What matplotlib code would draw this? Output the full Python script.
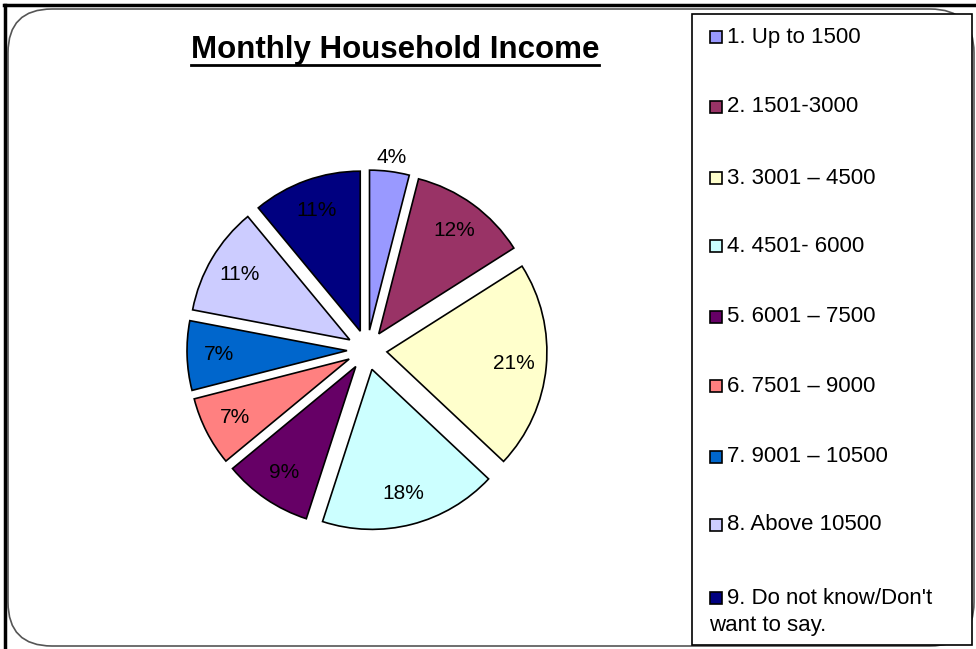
import matplotlib
matplotlib.use("Agg")
import matplotlib.pyplot as plt
from matplotlib.patches import Rectangle, FancyBboxPatch
from matplotlib.lines import Line2D

plt.rcParams['font.family'] = ['Liberation Sans', 'DejaVu Sans']

categories = ["1. Up to 1500", "2. 1501-3000", "3. 3001 \u2013 4500", "4. 4501- 6000",
              "5. 6001 \u2013 7500", "6. 7501 \u2013 9000", "7. 9001 \u2013 10500",
              "8. Above 10500", "9. Do not know/Don't\nwant to say."]
values = [4, 12, 21, 18, 9, 7, 7, 11, 11]
colors = ["#9999FF", "#993366", "#FFFFCC", "#CCFFFF", "#660066",
          "#FF8080", "#0066CC", "#CCCCFF", "#000080"]
title = "Monthly Household Income"

W, H = 976, 649
fig = plt.figure(figsize=(W / 100, H / 100), dpi=100)

def fx(px):
    return px / W

def fy(py):
    return 1 - py / H

# outer frame
fig.add_artist(Line2D([fx(4), fx(976)], [fy(5), fy(5)], color="black", lw=2.5))
fig.add_artist(Line2D([fx(5), fx(5)], [fy(5), fy(649)], color="black", lw=2.5))
fig.add_artist(FancyBboxPatch((fx(8), fy(646)), fx(966), (645 - 8) / H,
                              boxstyle="round,pad=0,rounding_size=0.045",
                              transform=fig.transFigure, fill=False,
                              edgecolor="#555555", lw=1.2, mutation_aspect=W / H))

# pie
cx, cy, r = 367, 350, 160
lim = 1.3
size = 2 * lim * r
ax = fig.add_axes([fx(cx - size / 2), fy(cy + size / 2), size / W, size / H])
wedges, texts, autotexts = ax.pie(values, colors=colors, startangle=90, counterclock=False,
                                  explode=[0.125] * len(values), autopct="%d%%",
                                  pctdistance=0.8, radius=1,
                                  wedgeprops=dict(edgecolor="black", linewidth=1.2),
                                  textprops=dict(fontsize=15, color="black"))
px0, py0 = autotexts[0].get_position()
autotexts[0].set_position((px0 * 1.31, py0 * 1.31))
ax.set_xlim(-lim, lim)
ax.set_ylim(-lim, lim)
ax.set_aspect("equal")
ax.axis("off")

# title with underline
t = fig.text(fx(395), fy(50), title, ha="center", va="center", fontsize=22.5, fontweight="bold")
fig.canvas.draw()
bb = t.get_window_extent()
fig.add_artist(Line2D([bb.x0 / W, bb.x1 / W], [fy(65), fy(65)], color="black", lw=2))

# legend box
fig.add_artist(Rectangle((fx(692), fy(645)), fx(972 - 692), (645 - 14) / H,
                         transform=fig.transFigure, fill=True, facecolor="white",
                         edgecolor="black", lw=1.2))
ys = [37, 107, 178, 246, 317, 386, 457, 525, 598]
for lab, col, y in zip(categories, colors, ys):
    fig.add_artist(Rectangle((fx(710), fy(y + 6)), fx(12), 12 / H, transform=fig.transFigure,
                             facecolor=col, edgecolor="black", lw=1.2))
    lines = lab.split("\n")
    fig.text(fx(727), fy(y), lines[0], ha="left", va="center", fontsize=16)
    for k, extra in enumerate(lines[1:], start=1):
        fig.text(fx(709), fy(y + 28 * k), extra, ha="left", va="center", fontsize=16)

fig.savefig("out.png", dpi=100)
